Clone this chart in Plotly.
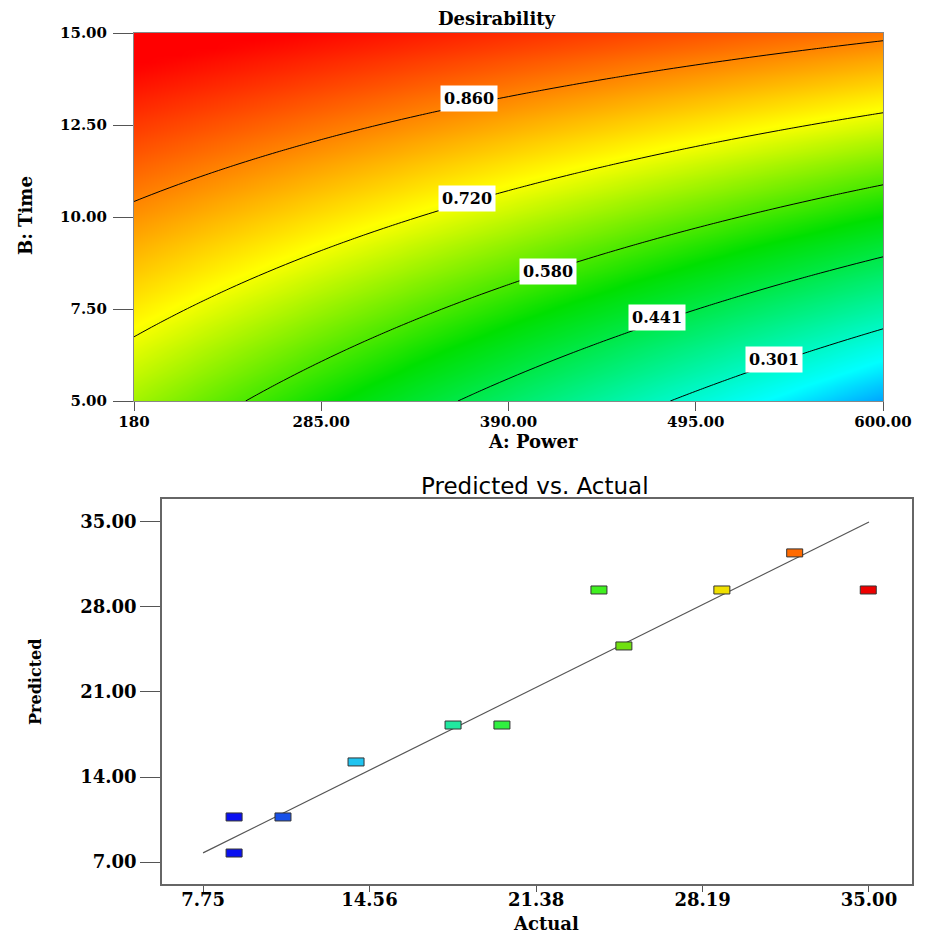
import numpy as np
import plotly.graph_objects as go

# ---------------- data: desirability surface (top) ----------------
power_range = [180, 600]          # A: Power
time_range = [5.0, 15.0]          # B: Time
x_tickvals_top = [180, 285, 390, 495, 600]
x_ticktext_top = ["180", "285.00", "390.00", "495.00", "600.00"]
y_tickvals_top = [5.0, 7.5, 10.0, 12.5, 15.0]
y_ticktext_top = ["5.00", "7.50", "10.00", "12.50", "15.00"]

# response-surface coefficients in coded units (read from the contour positions)
# order: intercept, A, B, AB, A^2, B^2
desir_coefs = [0.681, -0.163, 0.2735, 0.0835, 0.0, 0.0]

contour_levels = [0.301, 0.441, 0.580, 0.720, 0.860]
label_text = ["0.860", "0.720", "0.580", "0.441", "0.301"]
label_power = [368, 367, 412, 473, 539]
label_time = [13.23, 10.49, 8.53, 7.28, 6.14]

# ---------------- data: predicted vs actual (bottom) ----------------
actual = [9.02, 9.02, 11.02, 14.01, 17.98, 19.98, 23.95, 24.97, 28.98, 31.96, 34.97]
predicted = [10.71, 7.74, 10.71, 15.24, 18.28, 18.28, 29.40, 24.79, 29.40, 32.45, 29.40]
point_colors = ["#0a10f0", "#0a10f0", "#1850e8", "#20c4f0", "#20e8a0", "#30f040",
                "#40f020", "#70e010", "#f0e000", "#ff6a00", "#ee0000"]
fit_line = [7.75, 35.00]
x_tickvals_bot = [7.75, 14.56, 21.38, 28.19, 35.00]
x_ticktext_bot = ["7.75", "14.56", "21.38", "28.19", "35.00"]
y_tickvals_bot = [7.0, 14.0, 21.0, 28.0, 35.0]
y_ticktext_bot = ["7.00", "14.00", "21.00", "28.00", "35.00"]

# ---------------- surface grid ----------------
A = np.linspace(power_range[0], power_range[1], 85)
B = np.linspace(time_range[0], time_range[1], 51)
AA, BB = np.meshgrid(A, B)
a = (AA - 390.0) / 210.0
b = (BB - 10.0) / 5.0
c0, c1, c2, c12, c11, c22 = desir_coefs
D = c0 + c1 * a + c2 * b + c12 * a * b + c11 * a ** 2 + c22 * b ** 2
D = np.clip(D, 0, 1)

zmin, zmax = 0.02, 1.0
def nz(v):
    return (v - zmin) / (zmax - zmin)
colorscale = [
    [0.0, "#0000ff"],
    [nz(0.24), "#00ffff"],
    [nz(0.52), "#00e000"],
    [nz(0.73), "#ffff00"],
    [1.0, "#ff0000"],
]

SERIF = "DejaVu Serif"
fig = go.Figure()

fig.add_trace(go.Heatmap(
    x=A, y=B, z=D, zmin=zmin, zmax=zmax, colorscale=colorscale,
    zsmooth="best", showscale=False, xaxis="x", yaxis="y", hoverinfo="skip"))

step = (contour_levels[-1] - contour_levels[0]) / (len(contour_levels) - 1)
fig.add_trace(go.Contour(
    x=A, y=B, z=D, xaxis="x", yaxis="y", showscale=False,
    contours=dict(coloring="none", start=contour_levels[0],
                  end=contour_levels[-1] + 1e-6, size=step, showlabels=False),
    line=dict(color="black", width=1), hoverinfo="skip"))

# bottom: fit line
fig.add_trace(go.Scatter(
    x=fit_line, y=fit_line, mode="lines", xaxis="x2", yaxis="y2",
    line=dict(color="#555555", width=1.2), showlegend=False, hoverinfo="skip"))

# bottom: points as invisible scatter (hover) + rect shapes for visible markers
fig.add_trace(go.Scatter(
    x=actual, y=predicted, mode="markers", xaxis="x2", yaxis="y2",
    marker=dict(size=10, opacity=0), showlegend=False))

shapes = []
for xv, yv, col in zip(actual, predicted, point_colors):
    shapes.append(dict(type="rect", xref="x2", yref="y2",
                       xsizemode="pixel", ysizemode="pixel",
                       xanchor=xv, yanchor=yv, x0=-8, x1=8, y0=-4, y1=4,
                       fillcolor=col, line=dict(color="#333333", width=1)))

annotations = []
for t, xa, yb in zip(label_text, label_power, label_time):
    annotations.append(dict(x=xa, y=yb, xref="x", yref="y", text=t, showarrow=False,
                            xanchor="center", yanchor="middle",
                            bgcolor="white", borderpad=3,
                            font=dict(family=SERIF, size=16, color="black", weight="bold")))

W, H = 925, 936
def px(x):
    return x / W
def py(y):
    return 1 - y / H

def lab(x, y, text, size, family=SERIF, bold=True, angle=0):
    d = dict(x=px(x), y=py(y), xref="paper", yref="paper", text=text,
             showarrow=False, xanchor="center", yanchor="middle", textangle=angle,
             font=dict(family=family, size=size, color="black",
                       weight="bold" if bold else "normal"))
    return d

annotations += [
    lab(497, 18, "Desirability", 18),
    lab(533, 441, "A: Power", 18),
    lab(25, 216, "B: Time", 18, angle=-90),
    lab(535, 486, "Predicted vs. Actual", 23, family="DejaVu Sans", bold=False),
    lab(546, 923, "Actual", 18),
    lab(35, 682, "Predicted", 16, angle=-90),
]

tickfont_top = dict(family=SERIF, size=15, color="black", weight="bold")
tickfont_bot = dict(family=SERIF, size=18, color="black", weight="bold")

common = dict(showgrid=False, zeroline=False, automargin=False, ticks="outside",
              tickcolor="#555", showline=True, mirror=True)

fig.update_layout(
    width=W, height=H, margin=dict(l=0, r=0, t=0, b=0, autoexpand=False),
    paper_bgcolor="white", plot_bgcolor="white", showlegend=False,
    shapes=shapes, annotations=annotations,
    xaxis=dict(domain=[px(134), px(883)], anchor="y", range=power_range,
               tickvals=x_tickvals_top, ticktext=x_ticktext_top,
               ticklen=9, linecolor="#888", linewidth=1, ticklabelstandoff=-2,
               tickfont=tickfont_top, **common),
    yaxis=dict(domain=[py(401), py(33)], anchor="x", range=time_range,
               tickvals=y_tickvals_top, ticktext=y_ticktext_top,
               ticklen=20, linecolor="#888", linewidth=1, ticklabelstandoff=3,
               tickfont=tickfont_top, **common),
    xaxis2=dict(domain=[px(162), px(912)], anchor="y2", range=[6.07, 36.76],
                tickvals=x_tickvals_bot, ticktext=x_ticktext_bot,
                ticklen=6, linecolor="#666", linewidth=1.5, ticklabelstandoff=-7,
                tickfont=tickfont_bot, **common),
    yaxis2=dict(domain=[py(884), py(499)], anchor="x2", range=[5.19, 36.89],
                tickvals=y_tickvals_bot, ticktext=y_ticktext_bot,
                ticklen=20, linecolor="#666", linewidth=1.5,
                tickfont=tickfont_bot, **common),
)

fig.write_html("out.html")
